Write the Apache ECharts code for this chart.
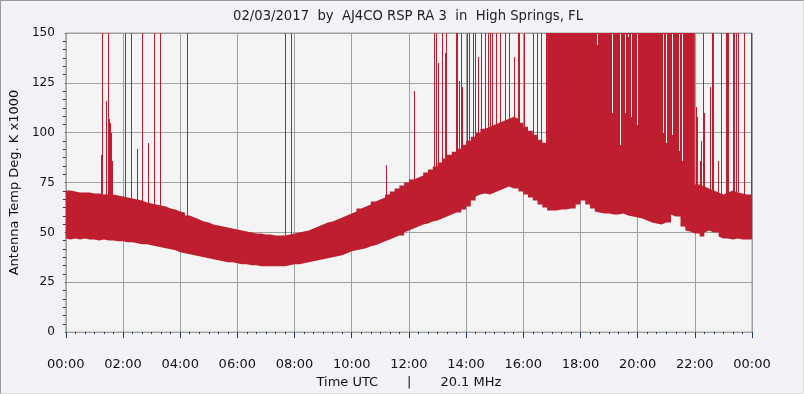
<!DOCTYPE html>
<html>
<head>
<meta charset="utf-8">
<script src="https://cdn.jsdelivr.net/npm/echarts@6/dist/echarts.min.js"></script>
<style>
html,body{margin:0;padding:0;background:#f3f3f7;}
#wrap{width:804px;height:394px;box-sizing:border-box;border-top:1px solid #9a9a9a;border-left:1px solid #9a9a9a;border-right:1px solid #dcdcdc;border-bottom:1px solid #dcdcdc;overflow:hidden;position:relative;}
#chart{width:804px;height:394px;position:absolute;left:-1px;top:-1px;}
</style>
</head>
<body>
<div id="wrap"><div id="chart"></div></div>
<script>
// ---- data (minutes after 00:00 UTC, antenna temperature in K x1000) ----
const titleText = "02/03/2017  by  AJ4CO RSP RA 3  in  High Springs, FL";
const xAxisName = "Time UTC       |       20.1 MHz";
const yAxisName = "Antenna Temp Deg. K x1000";
const xTickLabels = ["00:00","02:00","04:00","06:00","08:00","10:00","12:00","14:00","16:00","18:00","20:00","22:00","00:00"];

// 10-minute slots, lower edge of noise band
const bandLow = [
 47,46.5,47,46.5,47,46.5,
 46.5,46,46.5,46,46,45.5,
 45.5,45,45,44.5,44,44,
 43.5,43,42.5,42,41.5,41,
 40,39.5,39,38.5,38,37.5,
 37,36.5,36,35.5,35,35,
 34.5,34,34,33.5,33.5,33,
 33,33,33,33,33,33.5,
 34,34,34.5,35,35.5,36,
 36.5,37,37.5,38,38.5,39.5,
 40.5,41,41.5,42,43,43.5,
 44.5,45.5,46.5,47.5,48.5,50,
 51,52,53,54,54.5,55.5,
 56,57,58,59,60,61.5,
 63,66,68,69,69.5,69,
 70,71,72,73,72,70.5,
 69,67.5,66,64,62.5,61,
 61,61,61.5,61.5,62,64,
 66,64,62,60.5,60,59.5,
 59.5,59,59,59.5,58.5,58,
 57.5,57,56,55,54.5,54,
 55,59,58,53,51,50.5,
 49.5,48,50,51,50,48,
 47,47,46.5,47,46.5,46.5
];
// 10-minute slots, upper edge of noise band (values above 150 are off scale)
const bandHigh = [
 71,70.5,70,70,70,69.5,
 69.5,69,69,69,68.5,68,
 67.5,67,66.5,66,65,64.5,
 64,63.5,63,62,61.5,60.5,
 60,58.5,57.5,56.5,55.5,55,
 54,53.5,53,52.5,52,51.5,
 51,50.5,50,49.5,49.5,49,
 49,48.5,48.5,48.5,49,49.5,
 50,50.5,51,52,53,54,
 55,55.5,56.5,57.5,58.5,59.5,
 60.5,62,63,64,65.5,66.5,
 67.5,69,70.5,72,73.5,75,
 76.5,77.5,78.5,80,81.5,83,
 85,87,89,90.5,92,94,
 96,98,100,102,103,104,
 105,106,107,108,107,105,
 103,101,99,96.5,95,160,
 160,160,160,160,160,160,
 160,160,160,160,160,160,
 160,160,160,160,160,160,
 160,160,160,160,160,160,
 160,160,160,160,160,160,
 74,73,72,71,70,69,
 70,71,70,69.5,69,69
];
// isolated interference spikes
const spikeMinute = [74,76,77,84,88,89,91,92,93,95,96,124,137,149,160,172,185,197,254,459,472,672,
 731,772,777,782,789,795,798,818,821,825,829,832,842,846,855,858,865,871,880,886,891,895,903,911,922,930,940,949,952,962,980,988,998,1008,
 1323,1325,1331,1334,1338,1340,1351,1356,1359,1369,1374,1385,1387,1390,1400,1403,1406,1410,1411,1423,1438];
const spikeValue = [89,150,145,116,150,141,107,105,103,100,86,150,150,92,150,95,150,150,150,150,150,84,
 121,150,150,135,150,140,150,150,150,126,150,123,150,150,150,150,138,150,150,150,150,150,150,150,150,150,138,150,150,150,150,150,150,150,
 113,108,86,96,150,110,123,150,150,86,150,150,150,150,150,150,150,76,150,150,150];
// samples inside the storm whose peak stayed below the top of the scale
const dipMinute = [1115,1146,1162,1173,1179,1187,1198,1254,1259,1273,1286,1294];
const dipValue  = [144,110,94,110,148,108,104,100,95,99,91,86];

// ---- chart ----
const RED = '#be1e2e';
const PLOT_BG = '#f4f4f4';
const FONT = 'DejaVu Sans';
const TICK = '#1b3a66';
const SLOT = 10;

// slot start minutes, plus the closing edge at 24:00
const slotCats = bandLow.map((_, i) => String(i * SLOT)).concat([String(bandLow.length * SLOT)]);
const lowSeries = bandLow.concat([bandLow[bandLow.length - 1]]);
const spanSeries = bandHigh.map((h, i) => h - bandLow[i]);
spanSeries.push(spanSeries[spanSeries.length - 1]);
const spikeData = spikeMinute.map((m, i) => [m, spikeValue[i], bandLow[Math.min(bandLow.length - 1, Math.floor(m / SLOT))] + 2]);
const dipData = dipMinute.map((m, i) => [m, dipValue[i]]);

const chart = echarts.init(document.getElementById('chart'), null, {renderer: 'canvas'});
chart.setOption({
  backgroundColor: 'transparent',
  animation: false,
  graphic: [{
    type: 'text', x: 408, y: 17,
    style: {text: titleText, font: '13.2px "' + FONT + '"', fill: '#222', textAlign: 'center', textVerticalAlign: 'middle'}
  }],
  grid: {left: 64, top: 33, right: 52, bottom: 58, show: true, backgroundColor: PLOT_BG, borderColor: '#a0a0a0', borderWidth: 1},
  xAxis: [{
    type: 'value', min: 0, max: 1440, interval: 120,
    axisLine: {show: false}, axisTick: {show: false}, axisLabel: {show: false},
    splitLine: {show: true, lineStyle: {color: '#a0a0a0', width: 1}}
  }, {
    type: 'value', min: 0, max: 1440, interval: 120, position: 'bottom', offset: 5,
    axisLine: {show: false},
    axisTick: {show: true, length: 6, lineStyle: {color: TICK, width: 1}},
    minorTick: {show: true, splitNumber: 6, length: 2, lineStyle: {color: TICK, width: 1}},
    axisLabel: {margin: 21, fontFamily: FONT, fontSize: 13, color: '#111',
      formatter: v => xTickLabels[Math.round(v / 120)]},
    splitLine: {show: false},
    name: xAxisName, nameLocation: 'middle', nameGap: 29,
    nameTextStyle: {fontFamily: FONT, fontSize: 13, color: '#111'}
  }, {
    type: 'category', data: slotCats, boundaryGap: false, show: false
  }],
  yAxis: [{
    type: 'value', min: 0, max: 150, interval: 25,
    axisLine: {show: false}, axisTick: {show: false}, axisLabel: {show: false},
    splitLine: {show: true, lineStyle: {color: '#a0a0a0', width: 1}}
  }, {
    type: 'value', min: 0, max: 150, interval: 25, position: 'left', offset: 4,
    axisLine: {show: false},
    axisTick: {show: true, length: 1, lineStyle: {color: '#333'}},
    minorTick: {show: true, splitNumber: 6, length: 3, lineStyle: {color: TICK}},
    axisLabel: {margin: 7, fontFamily: FONT, fontSize: 12, color: '#111'},
    splitLine: {show: false},
    name: yAxisName, nameLocation: 'middle', nameGap: 27,
    nameTextStyle: {fontFamily: FONT, fontSize: 13, color: '#111'}
  }],
  series: [{
    type: 'line', xAxisIndex: 2, yAxisIndex: 0, stack: 'band', step: 'end', data: lowSeries,
    symbol: 'none', lineStyle: {width: 0, opacity: 0}, silent: true, z: 2
  }, {
    type: 'line', xAxisIndex: 2, yAxisIndex: 0, stack: 'band', step: 'end', data: spanSeries,
    symbol: 'none', lineStyle: {width: 0, opacity: 0}, areaStyle: {color: RED, opacity: 1}, silent: true, clip: true, z: 2
  }, {
    type: 'custom', xAxisIndex: 0, yAxisIndex: 0, clip: true, data: spikeData, z: 3, silent: true,
    renderItem: (params, api) => {
      const top = api.coord([api.value(0), api.value(1)]);
      const base = api.coord([api.value(0), api.value(2)]);
      const x = Math.round(top[0]);
      return {type: 'rect', shape: {x: x, y: Math.round(top[1]), width: 1, height: Math.round(base[1] - top[1])},
        style: {fill: RED, stroke: 'none', lineWidth: 0}};
    }
  }, {
    type: 'custom', xAxisIndex: 0, yAxisIndex: 0, clip: true, data: dipData, z: 4, silent: true,
    renderItem: (params, api) => {
      const p = api.coord([api.value(0), api.value(1)]);
      const t = api.coord([api.value(0), 150]);
      const x = Math.round(p[0]);
      return {type: 'rect', shape: {x: x, y: Math.round(t[1]) + 1, width: 1, height: Math.round(p[1] - t[1]) - 1},
        style: {fill: PLOT_BG, stroke: 'none', lineWidth: 0}};
    }
  }]
});
</script>
</body>
</html>
